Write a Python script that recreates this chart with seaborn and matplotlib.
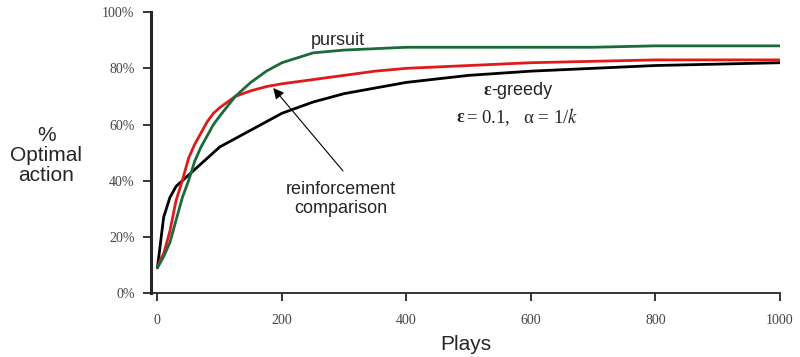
import matplotlib
matplotlib.use('Agg')
import matplotlib.pyplot as plt
import pandas as pd
import seaborn as sns

# values (percent optimal action)
plays = [0, 5, 10, 20, 30, 40, 50, 60, 70, 80, 90, 100, 125, 150, 175, 200,
         250, 300, 350, 400, 500, 600, 700, 800, 900, 1000]
pursuit = [9, 11, 13, 18, 26, 34, 40, 47, 52, 56, 60, 63, 70, 75, 79, 82,
           85.5, 86.5, 87, 87.5, 87.5, 87.5, 87.5, 88, 88, 88]
reinf_comp = [9, 12, 14, 22, 33, 40, 48, 53, 57, 61, 64, 66, 70, 72, 73.5, 74.5,
              76, 77.5, 79, 80, 81, 82, 82.5, 83, 83, 83]
eps_greedy = [9, 18, 27, 34, 38, 40, 42, 44, 46, 48, 50, 52, 55, 58, 61, 64,
              68, 71, 73, 75, 77.5, 79, 80, 81, 81.5, 82]

x_ticks = [0, 200, 400, 600, 800, 1000]
y_ticks = [0, 20, 40, 60, 80, 100]
y_ticklabels = ['0%', '20%', '40%', '60%', '80%', '100%']

df = pd.DataFrame({'plays': plays, 'pursuit': pursuit,
                   'reinforcement comparison': reinf_comp,
                   'e-greedy': eps_greedy})

sns.set_style('ticks')
plt.rcParams['font.family'] = ['Liberation Sans', 'DejaVu Sans']
plt.rcParams['mathtext.fontset'] = 'stix'

fig = plt.figure(figsize=(8, 3.57), dpi=100)
ax = fig.add_axes([0.189, 0.179, 0.786, 0.787])

sns.lineplot(data=df, x='plays', y='e-greedy', color='black', lw=2, ax=ax)
sns.lineplot(data=df, x='plays', y='reinforcement comparison', color='#e01a1a', lw=2, ax=ax)
sns.lineplot(data=df, x='plays', y='pursuit', color='#1b6b3a', lw=2, ax=ax)

ax.set_xlim(-10, 1000)
ax.set_ylim(0, 100)
ax.set_xticks(x_ticks)
ax.set_xticklabels([str(t) for t in x_ticks], family='Liberation Serif', fontsize=10, color='#444444')
ax.set_yticks(y_ticks)
ax.set_yticklabels(y_ticklabels, family='Liberation Serif', fontsize=10, color='#444444')
ax.tick_params(axis='x', length=6, width=1.3, pad=9)
ax.tick_params(axis='y', length=6, width=1.3, pad=6)
sns.despine(ax=ax)
ax.spines['left'].set_linewidth(2.2)
ax.spines['bottom'].set_linewidth(1.3)

ax.set_xlabel('Plays', fontsize=15, labelpad=6)
ax.set_ylabel('')
fig.text(0.058, 0.565, '%\nOptimal\naction', ha='center', va='center',
         fontsize=15, linespacing=1.05)

ax.text(290, 90, 'pursuit', fontsize=13, ha='center', va='center')
ax.text(537, 72, '-greedy', fontsize=13, ha='left', va='center')
ax.text(524, 72, 'ε', fontsize=13, ha='left', va='center', weight='bold',
        family='Liberation Serif')
ax.text(480, 62.5, 'ε', fontsize=13, ha='left', va='center', weight='bold',
        family='Liberation Serif')
ax.text(496, 62.5, r'= 0.1,   α = 1/$k$', fontsize=13.5, ha='left', va='center',
        family='Liberation Serif')
ax.text(295, 33.5, 'reinforcement\ncomparison', fontsize=13, ha='center', va='center',
        linespacing=1.15)

ax.annotate('', xy=(186, 73), xytext=(298, 43.5),
            arrowprops=dict(arrowstyle='-|>', color='black', lw=0.8,
                            mutation_scale=16, shrinkA=0, shrinkB=0))

fig.savefig('out.png', dpi=100)
